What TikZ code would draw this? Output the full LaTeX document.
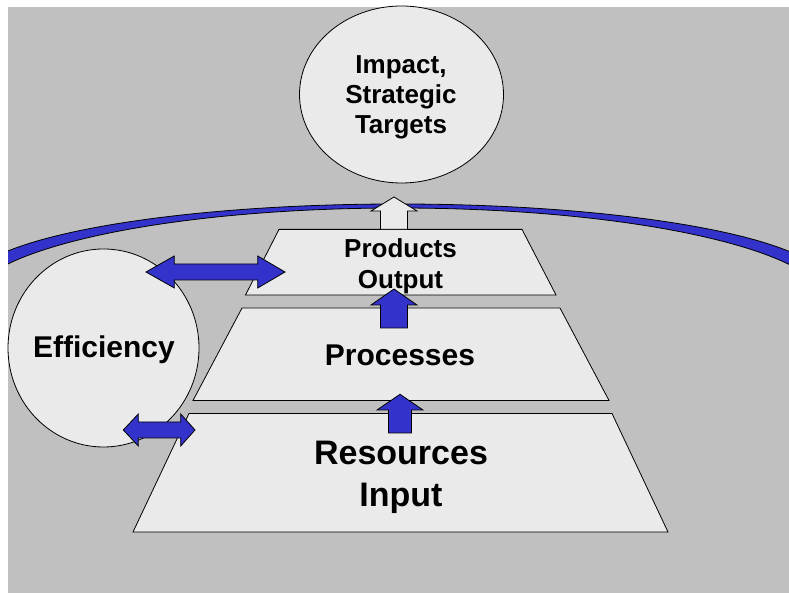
\documentclass[tikz,border=0pt]{standalone}
\usepackage{fontspec}
\setmainfont{Liberation Sans}
\usetikzlibrary{shapes.geometric}
\definecolor{bggray}{RGB}{192,192,192}
\definecolor{boxfill}{RGB}{234,234,234}
\definecolor{arrblue}{RGB}{51,51,204}
\tikzset{
  outline/.style={draw=black, line width=0.8pt},
  level/.style={outline, fill=boxfill},
  blockarrow/.style={outline, fill=arrblue, line join=miter},
  lbl/.style={align=center, inner sep=0pt}
}
\begin{document}
\begin{tikzpicture}[x=1pt,y=1pt]
\useasboundingbox (0,0) rectangle (789,593);
% Hintergrund
\fill[bggray] (8,0) rectangle (789,586);
% Bogen
\begin{scope}
\clip (8,0) rectangle (789,586);
\draw[outline, fill=arrblue] (-32,307.8) arc[start angle=180, end angle=0, x radius=430, y radius=81.2]
  -- (828,288.3) arc[start angle=0, end angle=180, x radius=430, y radius=96.7] -- cycle;
\end{scope}
% Ellipsen
\node[ellipse, level, inner sep=0pt, minimum width=204pt, minimum height=177pt] (impact) at (401.5,498.5) {};
\node[ellipse, level, inner sep=0pt, minimum width=191pt, minimum height=198pt] (eff) at (103.5,245) {};
\node[lbl, font=\fontsize{26}{30}\selectfont\bfseries] (impacttext) at (401,495.5) {Impact,\\Strategic\\Targets};
\node[lbl, anchor=base, font=\fontsize{30}{36}\selectfont\bfseries] (efftext) at (104,235) {Efficiency};
% Stufen
\draw[level] (133,61) -- (668,61) -- (612,179.5) -- (189,179.5) -- cycle;
\draw[level] (193,192.5) -- (609,192.5) -- (560,285) -- (242,285) -- cycle;
\draw[level] (245.5,298) -- (556,298) -- (522,363.6) -- (279,363.6) -- cycle;
% Pfeile nach oben
\foreach \cx/\bot/\base/\tip/\sh/\hd/\col in {394/363.7/382/396/13.5/23/boxfill,
    394/265/288/304/13.5/23/arrblue, 400/160/183/198.7/11.5/23/arrblue}
  \draw[outline, fill=\col, line join=miter] ({\cx-\sh},\bot) -- ({\cx-\sh},\base) -- ({\cx-\hd},\base)
    -- (\cx,\tip) -- ({\cx+\hd},\base) -- ({\cx+\sh},\base) -- ({\cx+\sh},\bot) -- cycle;
% Doppelpfeile
\foreach \y/\lt/\lb/\rb/\rt in {321/146/174.3/257.7/285, 163/123.3/138.3/180.7/195}
  \draw[blockarrow] (\lt,\y) -- (\lb,{\y+16}) -- (\lb,{\y+8}) -- (\rb,{\y+8}) -- (\rb,{\y+16})
    -- (\rt,\y) -- (\rb,{\y-16}) -- (\rb,{\y-8}) -- (\lb,{\y-8}) -- (\lb,{\y-16}) -- cycle;
% Texte
\node[lbl, font=\fontsize{34}{42.5}\selectfont\bfseries] (resources) at (401,115.5) {Resources\\Input};
\node[lbl, anchor=base, font=\fontsize{30}{36}\selectfont\bfseries] (processes) at (400,227.3) {Processes};
\node[lbl, font=\fontsize{26}{31}\selectfont\bfseries] (products) at (400.5,327) {Products\\Output};
\end{tikzpicture}
\end{document}
